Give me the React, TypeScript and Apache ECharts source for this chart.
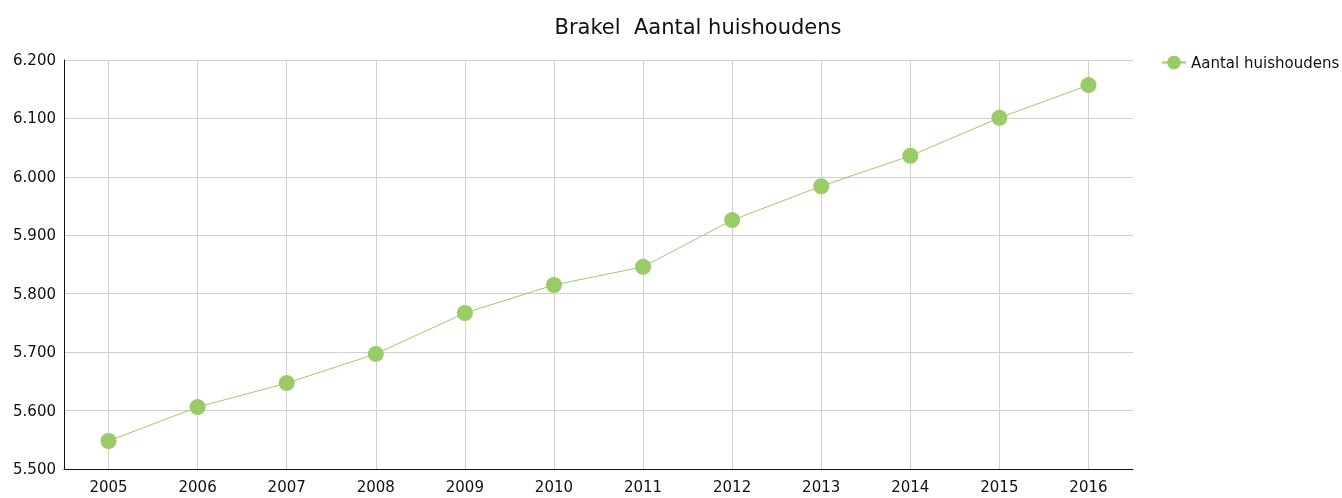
import React, { useEffect, useRef } from "react";
import * as echarts from "echarts";

const years = ["2005", "2006", "2007", "2008", "2009", "2010", "2011", "2012", "2013", "2014", "2015", "2016"];
const households = [5548, 5606, 5647, 5697, 5767, 5815, 5846, 5926, 5984, 6036, 6101, 6157];
const seriesName = "Aantal huishoudens";
const titleText = "Brakel  Aantal huishoudens";

const FONT = "'DejaVu Sans', Verdana, sans-serif";

export default function App() {
  const ref = useRef<HTMLDivElement>(null);
  useEffect(() => {
    if (!ref.current) return;
    const chart = echarts.init(ref.current, undefined, { renderer: "svg" });
    chart.setOption({
      animation: false,
      textStyle: { fontFamily: FONT },
      title: {
        text: titleText,
        left: 693,
        textAlign: "center",
        top: 11,
        textStyle: { fontFamily: FONT, fontSize: 21, fontWeight: "normal", color: "#111" },
      },
      legend: {
        left: 1156,
        top: 50,
        itemWidth: 24,
        itemHeight: 17,
        itemGap: 4,
        textStyle: { fontFamily: FONT, fontSize: 15, color: "#111" },
        data: [seriesName],
      },
      grid: { left: 64, right: 209, top: 60, bottom: 29, containLabel: false },
      xAxis: {
        type: "category",
        data: years,
        boundaryGap: true,
        axisLine: { lineStyle: { color: "#111", width: 1 } },
        axisTick: { show: false },
        axisLabel: { color: "#111", fontSize: 15, fontFamily: FONT, margin: 10 },
        splitLine: { show: true, alignWithLabel: true, lineStyle: { color: "#d0d0d0", width: 1 } },
      },
      yAxis: {
        type: "value",
        min: 5500,
        max: 6200,
        interval: 100,
        axisLine: { show: true, lineStyle: { color: "#111", width: 1 } },
        axisTick: { show: false },
        axisLabel: {
          color: "#111",
          fontSize: 15,
          fontFamily: FONT,
          margin: 8,
          formatter: (v: number) => {
            const s = Math.round(v).toString();
            return s.replace(/\B(?=(\d{3})+(?!\d))/g, ".");
          },
        },
        splitLine: { show: true, lineStyle: { color: "#d0d0d0", width: 1 } },
      },
      series: [
        {
          name: seriesName,
          type: "line",
          data: households,
          symbol: "circle",
          symbolSize: 16,
          itemStyle: { color: "#99cc66" },
          lineStyle: { color: "#99cc66", width: 1 },
        },
      ],
    });
    return () => chart.dispose();
  }, []);
  return <div ref={ref} style={{ position: "fixed", left: 0, top: 0, width: 1342, height: 498 }} />;
}
